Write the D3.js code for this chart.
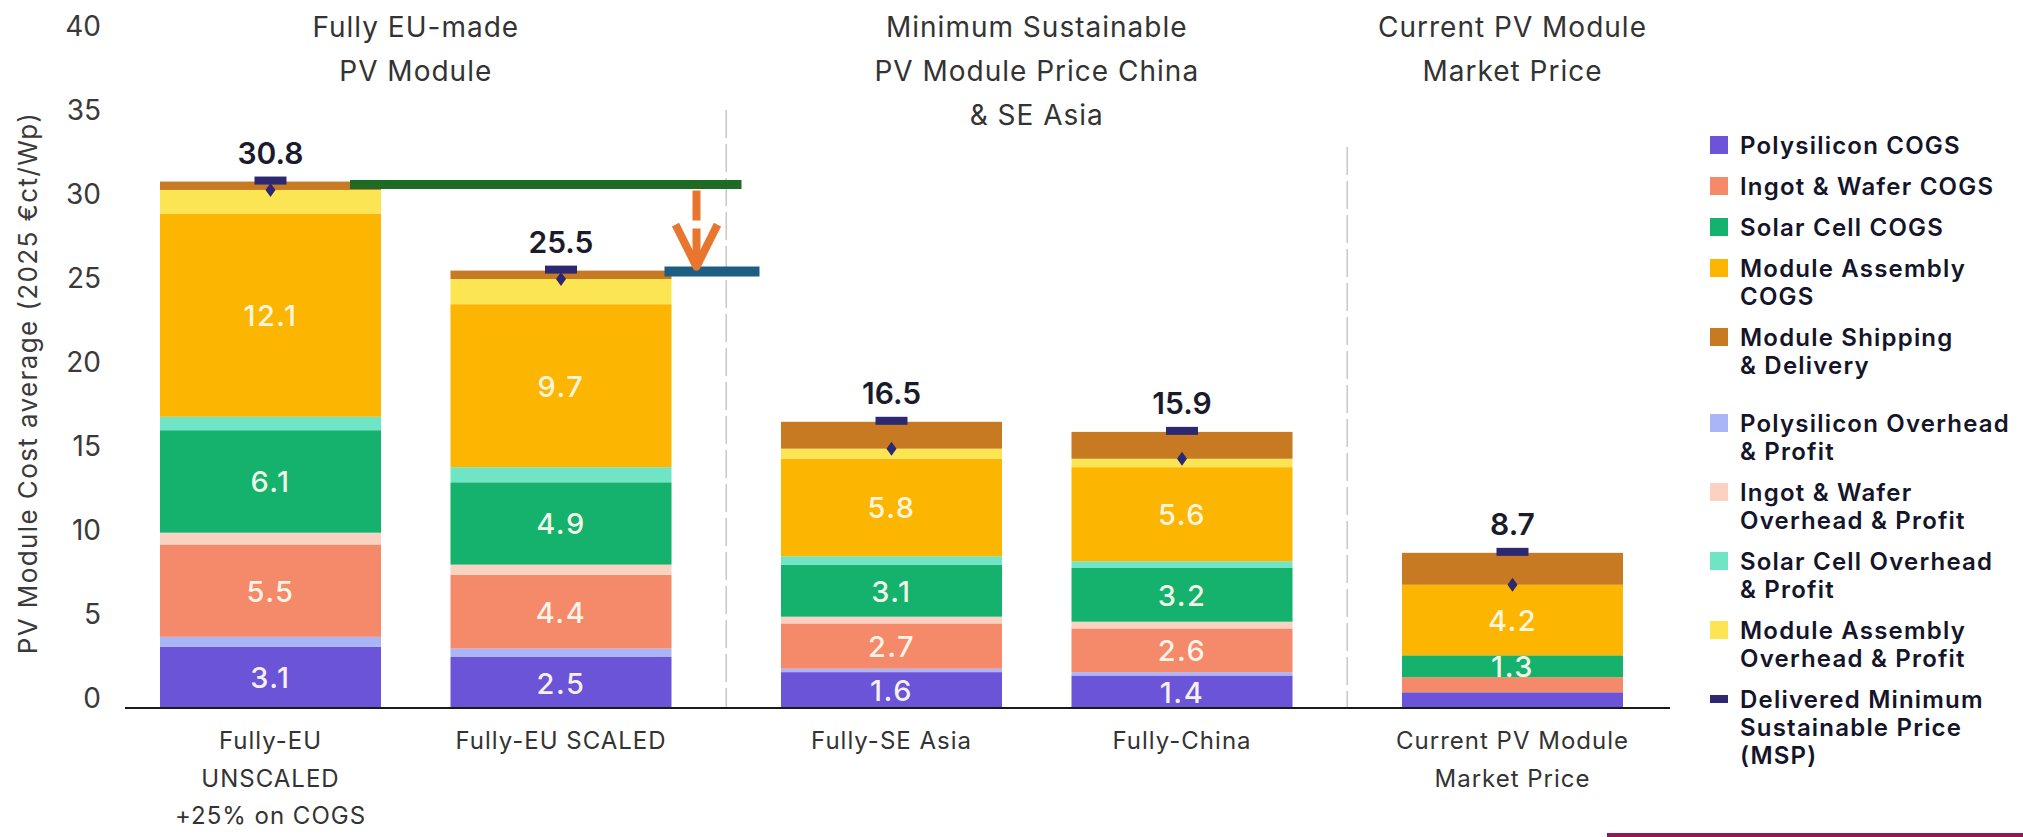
<!DOCTYPE html>
<html><head><meta charset="utf-8">
<script src="https://cdn.jsdelivr.net/npm/d3@7"></script>
<style>
html,body{margin:0;padding:0;background:#fff;}
svg{display:block;font-family:Inter,'Open Sans',sans-serif;}
</style>
</head><body>
<svg id="chart" width="2023" height="837"></svg>
<script>
// ---------------- DATA ----------------
const categories = ["Fully-EU UNSCALED +25% on COGS", "Fully-EU SCALED", "Fully-SE Asia", "Fully-China", "Current PV Module Market Price"];
const categoryLines = [["Fully-EU", "UNSCALED", "+25% on COGS"], ["Fully-EU SCALED"], ["Fully-SE Asia"], ["Fully-China"], ["Current PV Module", "Market Price"]];
const categoryGroup = [0, 0, 1, 1, 2];
const groupTitles = [["Fully EU-made", "PV Module"], ["Minimum Sustainable", "PV Module Price China", "& SE Asia"], ["Current PV Module", "Market Price"]];
const yTicks = [0, 5, 10, 15, 20, 25, 30, 35, 40];

const polysiliconCOGS     = [3.1, 2.5, 1.6, 1.4, 0.4];
const polysiliconOverhead = [0.6, 0.5, 0.2, 0.2, 0.0];
const ingotWaferCOGS      = [5.5, 4.4, 2.7, 2.6, 0.9];
const ingotWaferOverhead  = [0.7, 0.6, 0.4, 0.4, 0.0];
const solarCellCOGS       = [6.1, 4.9, 3.1, 3.2, 1.3];
const solarCellOverhead   = [0.8, 0.9, 0.5, 0.4, 0.0];
const moduleAssemblyCOGS  = [12.1, 9.7, 5.8, 5.6, 4.2];
const moduleAssemblyOverhead = [1.4, 1.5, 0.6, 0.5, 0.0];
const moduleShipping      = [0.5, 0.5, 1.6, 1.6, 1.9];
const deliveredMSP        = [30.8, 25.5, 16.5, 15.9, 8.7];

const seriesInfo = {
  polyCOGS:  {name: "Polysilicon COGS", color: "#6B54D8", values: polysiliconCOGS, labelled: true},
  polyOH:    {name: "Polysilicon Overhead & Profit", color: "#A9B5F7", values: polysiliconOverhead},
  ingotCOGS: {name: "Ingot & Wafer COGS", color: "#F58A6A", values: ingotWaferCOGS, labelled: true},
  ingotOH:   {name: "Ingot & Wafer Overhead & Profit", color: "#FBD2C2", values: ingotWaferOverhead},
  cellCOGS:  {name: "Solar Cell COGS", color: "#14B26C", values: solarCellCOGS, labelled: true},
  cellOH:    {name: "Solar Cell Overhead & Profit", color: "#70E5C6", values: solarCellOverhead},
  modCOGS:   {name: "Module Assembly COGS", color: "#FCB500", values: moduleAssemblyCOGS, labelled: true},
  modOH:     {name: "Module Assembly Overhead & Profit", color: "#FCE552", values: moduleAssemblyOverhead},
  ship:      {name: "Module Shipping & Delivery", color: "#C77A22", values: moduleShipping}
};
const stackOrder = ["polyCOGS","polyOH","ingotCOGS","ingotOH","cellCOGS","cellOH","modCOGS","modOH","ship"];
const legendItems = [
  {key:"polyCOGS", lines:["Polysilicon COGS"]},
  {key:"ingotCOGS", lines:["Ingot & Wafer COGS"]},
  {key:"cellCOGS", lines:["Solar Cell COGS"]},
  {key:"modCOGS", lines:["Module Assembly","COGS"]},
  {key:"ship", lines:["Module Shipping","& Delivery"], gapAfter:true},
  {key:"polyOH", lines:["Polysilicon Overhead","& Profit"]},
  {key:"ingotOH", lines:["Ingot & Wafer","Overhead & Profit"]},
  {key:"cellOH", lines:["Solar Cell Overhead","& Profit"]},
  {key:"modOH", lines:["Module Assembly","Overhead & Profit"]},
  {key:"msp", lines:["Delivered Minimum","Sustainable Price","(MSP)"]}
];
const mspColor = "#2C2872";

// ---------------- LAYOUT ----------------
const svg = d3.select("#chart");
svg.append("rect").attr("width", 2023).attr("height", 837).attr("fill", "#fff");

const y = d3.scaleLinear().domain([0, 40]).range([699, 27]);
const baseY = 708;                      // axis line sits a little below zero
const barW = 221;
const slot = d3.scaleLinear().domain([0, 1]).range([270.5, 561]);
const groupGap = 40;
const xc = i => slot(i) + categoryGroup[i] * groupGap;

const rows = categories.map((c, i) => {
  const r = {category: c};
  stackOrder.forEach(k => r[k] = seriesInfo[k].values[i]);
  return r;
});
const stacked = d3.stack().keys(stackOrder)(rows);

// dashed group separators
const sepTops = [110, 147];
[1, 3].forEach((i, j) => {
  const sx = (xc(i) + xc(i + 1)) / 2;
  svg.append("line").attr("x1", sx).attr("x2", sx).attr("y1", sepTops[j]).attr("y2", baseY)
    .attr("stroke", "#c9c9c9").attr("stroke-width", 1.6).attr("stroke-dasharray", "28,6");
});

// y axis
const yAxis = d3.axisLeft(y).tickValues(yTicks).tickSize(0).tickPadding(0).tickFormat(d3.format("d"));
const gy = svg.append("g").attr("transform", "translate(101,0)").call(yAxis);
gy.select(".domain").remove();
gy.selectAll("text").attr("font-size", 28).attr("fill", "#3a3a3a").attr("font-family", "Inter,'Open Sans',sans-serif");

svg.append("text").attr("transform", "translate(37,383) rotate(-90)")
  .attr("text-anchor", "middle").attr("font-size", 26).attr("letter-spacing", 1.4).attr("fill", "#3a3a3a")
  .text("PV Module Cost average (2025 €ct/Wp)");

// bars
const layers = svg.append("g").selectAll("g").data(stacked).join("g")
  .attr("fill", d => seriesInfo[d.key].color);
layers.selectAll("rect").data(d => d.map((v, i) => ({v, i}))).join("rect")
  .filter(d => d.v[1] - d.v[0] > 0)
  .attr("x", d => xc(d.i) - barW / 2)
  .attr("width", barW)
  .attr("y", d => y(d.v[1]))
  .attr("height", d => (d.v[0] === 0 ? baseY : y(d.v[0])) - y(d.v[1]));

// segment labels
stacked.forEach(layer => {
  if (!seriesInfo[layer.key].labelled) return;
  layer.forEach((v, i) => {
    const val = v[1] - v[0];
    if (val < 1) return;
    const top = y(v[1]), bot = v[0] === 0 ? baseY : y(v[0]);
    svg.append("text").attr("x", xc(i)).attr("y", (top + bot) / 2 + 11)
      .attr("text-anchor", "middle").attr("font-size", 29).attr("font-weight", 500)
      .attr("letter-spacing", 1.5)
      .attr("fill", "#fffaf0").attr("fill-opacity", 0.95)
      .text(d3.format(".1f")(val));
  });
});

// MSP markers
deliveredMSP.forEach((t, i) => {
  const exWorks = t - moduleShipping[i];
  const dy = y(exWorks);
  svg.append("path").attr("d", `M${xc(i)},${dy - 7}L${xc(i) + 5},${dy}L${xc(i)},${dy + 7}L${xc(i) - 5},${dy}Z`)
    .attr("fill", mspColor);
  svg.append("rect").attr("x", xc(i) - 16).attr("y", y(t) - 5).attr("width", 32).attr("height", 8)
    .attr("fill", mspColor);
  svg.append("text").attr("x", xc(i)).attr("y", y(t) - 18).attr("text-anchor", "middle")
    .attr("font-size", 30).attr("font-weight", 600).attr("fill", "#1b1b2b")
    .text(d3.format(".1f")(t));
});

// axis line
svg.append("line").attr("x1", 125).attr("x2", 1670).attr("y1", baseY).attr("y2", baseY)
  .attr("stroke", "#1a1a1a").attr("stroke-width", 2);

// category labels
categoryLines.forEach((lines, i) => {
  lines.forEach((ln, k) => {
    svg.append("text").attr("x", xc(i)).attr("y", 749 + k * 37.5).attr("text-anchor", "middle")
      .attr("font-size", 24).attr("letter-spacing", 1.0).attr("fill", "#333").text(ln);
  });
});

// group titles
const groupCenters = [(xc(0) + xc(1)) / 2, (xc(2) + xc(3)) / 2, xc(4)];
groupTitles.forEach((lines, g) => {
  lines.forEach((ln, k) => {
    svg.append("text").attr("x", groupCenters[g]).attr("y", 37 + k * 44).attr("text-anchor", "middle")
      .attr("font-size", 28).attr("letter-spacing", 1.0).attr("fill", "#333").text(ln);
  });
});

// annotation: drop from unscaled to scaled
const x1r = xc(0) + barW / 2, x2r = xc(1) + barW / 2;
svg.append("line").attr("x1", x1r - 31).attr("x2", x2r + 70).attr("y1", y(deliveredMSP[0]) + 3).attr("y2", y(deliveredMSP[0]) + 3)
  .attr("stroke", "#1E6B26").attr("stroke-width", 9);
svg.append("line").attr("x1", x2r - 7).attr("x2", x2r + 88).attr("y1", y(deliveredMSP[1]) + 1).attr("y2", y(deliveredMSP[1]) + 1)
  .attr("stroke", "#1C5F80").attr("stroke-width", 10);
const ax = x2r + 25;
svg.append("line").attr("x1", ax).attr("x2", ax).attr("y1", y(deliveredMSP[0]) + 9).attr("y2", y(deliveredMSP[1]) - 6)
  .attr("stroke", "#E8762F").attr("stroke-width", 8).attr("stroke-dasharray", "30,8");
svg.append("path")
  .attr("d", `M${ax - 21},${y(deliveredMSP[1]) - 46}L${ax},${y(deliveredMSP[1]) - 4}L${ax + 21},${y(deliveredMSP[1]) - 46}`)
  .attr("fill", "none").attr("stroke", "#E8762F").attr("stroke-width", 8).attr("stroke-linejoin", "round");

// legend
const lg = svg.append("g");
let ly = 145;
legendItems.forEach(it => {
  if (it.key === "msp") {
    lg.append("rect").attr("x", 1710).attr("y", ly - 4).attr("width", 18).attr("height", 8).attr("fill", mspColor);
  } else {
    lg.append("rect").attr("x", 1710).attr("y", ly - 9).attr("width", 18).attr("height", 18).attr("fill", seriesInfo[it.key].color);
  }
  it.lines.forEach((ln, k) => {
    lg.append("text").attr("x", 1740).attr("y", ly + k * 28 + 9).attr("font-size", 24).attr("font-weight", 600)
      .attr("letter-spacing", 1.2).attr("fill", "#15152a").text(ln);
  });
  ly += (it.lines.length - 1) * 28 + 41 + (it.gapAfter ? 17 : 0);
});

// decorative strip at the bottom right
svg.append("rect").attr("x", 1607).attr("y", 833).attr("width", 416).attr("height", 4).attr("fill", "#8E1B4F");
</script>
</body></html>
